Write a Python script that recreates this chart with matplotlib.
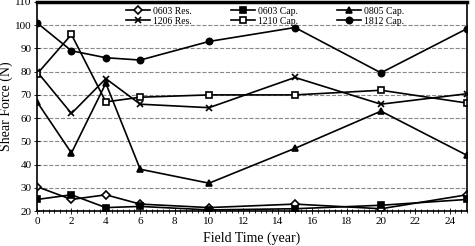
import matplotlib.pyplot as plt
from matplotlib.ticker import MultipleLocator

plt.rcParams['font.family'] = ['Liberation Serif', 'DejaVu Serif']

years = [0, 2, 4, 6, 10, 15, 20, 25]

res0603 = [30.5, 25, 27, 23, 21.5, 23, 21, 27]
cap0603 = [25, 27, 21.5, 22, 20.5, 21, 22.5, 25]
cap0805 = [67, 45, 75, 38, 32, 47, 63, 44]
res1206 = [80, 62, 77, 66, 64.5, 77.5, 66, 70.5]
cap1210 = [79, 96, 67, 69, 70, 70, 72, 66.5]
cap1812 = [101, 89, 86, 85, 93, 99, 79.5, 98.5]

series = [
    ("0603 Res.", res0603, "D", "white"),
    ("0603 Cap.", cap0603, "s", "black"),
    ("0805 Cap.", cap0805, "^", "black"),
    ("1206 Res.", res1206, "x", "black"),
    ("1210 Cap.", cap1210, "s", "white"),
    ("1812 Cap.", cap1812, "o", "black"),
]

fig = plt.figure(figsize=(4.75, 2.46), dpi=100)
ax = fig.add_axes([0.078, 0.142, 0.905, 0.85])

lines = []
for name, vals, mk, fc in series:
    l, = ax.plot(years, vals, color="black", lw=1.2, marker=mk, ms=4.5,
                 mfc=fc, mec="black", mew=1.2, label=name)
    lines.append(l)

ax.set_xlim(0, 25)
ax.set_ylim(20, 110)
ax.xaxis.set_major_locator(MultipleLocator(2))
ax.xaxis.set_minor_locator(MultipleLocator(1 / 3))
ax.yaxis.set_major_locator(MultipleLocator(10))
ax.yaxis.grid(True, ls="--", color="#888888", lw=0.8)
ax.tick_params(labelsize=8, direction="inout", length=4, width=0.6, pad=2)
ax.tick_params(which="minor", direction="inout", length=3, width=0.6)
for s in ax.spines.values():
    s.set_linewidth(1.2)
ax.spines["top"].set_linewidth(2.5)

ax.set_xlabel("Field Time (year)", fontsize=10, labelpad=4)
ax.set_ylabel("Shear Force (N)", fontsize=10, labelpad=1)

# fill legend row by row
order = [0, 3, 1, 4, 2, 5]
ax.legend([lines[i] for i in order], [series[i][0] for i in order],
          ncol=3, loc="upper center", bbox_to_anchor=(0.53, 1.01), frameon=False,
          fontsize=7, handlelength=2.5, columnspacing=4, labelspacing=0.1,
          borderpad=0.2, handletextpad=0.3)

fig.savefig("out.png", dpi=100)
